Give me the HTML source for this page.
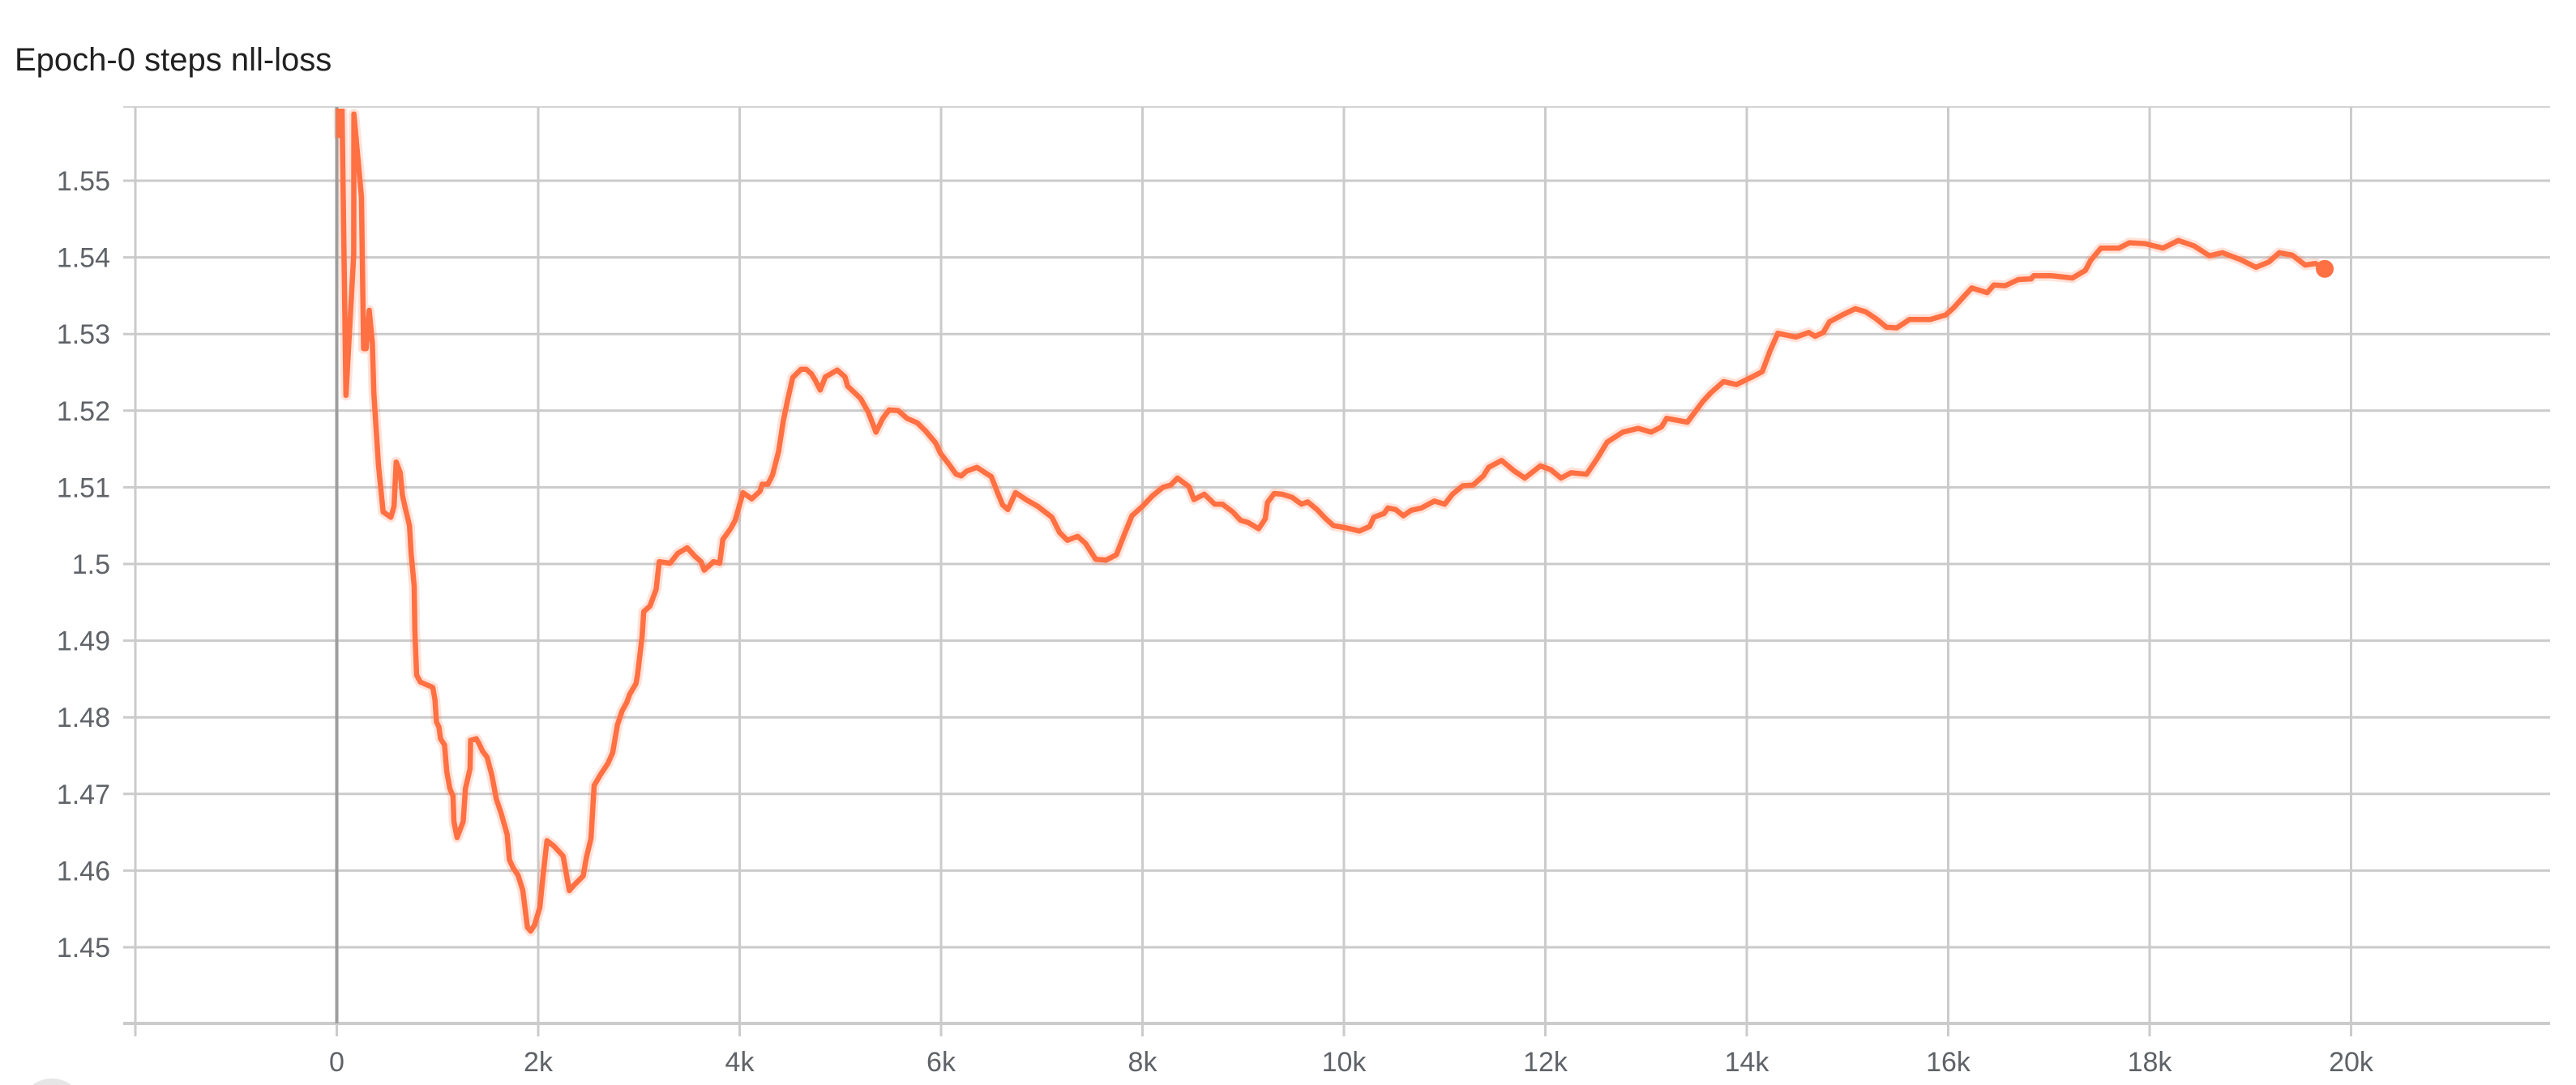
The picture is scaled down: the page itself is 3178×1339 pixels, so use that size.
<!DOCTYPE html>
<html><head><meta charset="utf-8"><style>
html,body{margin:0;padding:0;background:#fff;width:3178px;height:1339px;overflow:hidden}
#title{position:absolute;left:18px;top:52px;font:40px "Liberation Sans",sans-serif;color:#212121}
svg{position:absolute;left:0;top:0}
</style></head><body>
<div id="title">Epoch-0 steps nll-loss</div>
<svg id="chart" width="3178" height="1339"></svg>
<script>
const steps=[0,14,23,45,91,168,170,245,266,291,322,353,368,414,460,537,568,590,630,651,682,722,738,769,775,793,830,953,975,990,1015,1030,1070,1092,1123,1154,1163,1194,1255,1277,1323,1329,1385,1415,1446,1492,1539,1585,1631,1692,1714,1754,1800,1847,1893,1924,1964,2016,2047,2087,2155,2247,2309,2355,2447,2478,2524,2555,2617,2693,2740,2786,2832,2878,2909,2971,2986,3032,3048,3109,3171,3202,3309,3387,3479,3556,3617,3648,3741,3802,3833,3910,3956,4033,4120,4203,4224,4280,4326,4387,4434,4480,4526,4610,4661,4713,4754,4800,4851,4969,5046,5072,5200,5277,5354,5421,5483,5575,5662,5765,5842,5945,5996,6073,6150,6201,6253,6355,6499,6561,6612,6663,6740,6843,6961,7100,7177,7254,7356,7433,7536,7639,7741,7818,7895,7998,8100,8203,8280,8347,8460,8511,8614,8716,8793,8896,8973,9050,9153,9219,9240,9307,9384,9486,9579,9640,9733,9820,9897,10025,10154,10256,10297,10400,10436,10513,10590,10667,10770,10898,11000,11078,11180,11283,11385,11437,11565,11693,11796,11950,12053,12155,12255,12409,12512,12614,12768,12922,13051,13153,13205,13410,13564,13641,13769,13898,14052,14154,14231,14308,14488,14616,14678,14760,14822,14950,15078,15181,15284,15386,15489,15617,15822,15976,16053,16156,16233,16387,16454,16567,16695,16823,16849,17029,17234,17362,17414,17516,17593,17696,17799,17953,18132,18286,18440,18594,18723,18902,19056,19184,19287,19416,19544,19647,19739];
const losses=[1.58,1.566,1.5559,1.566,1.522,1.5404,1.5587,1.5479,1.5281,1.5281,1.5331,1.5288,1.5223,1.5129,1.5068,1.5061,1.5075,1.5133,1.5119,1.509,1.5072,1.505,1.5014,1.4971,1.4913,1.4855,1.4846,1.4839,1.4823,1.4794,1.4787,1.4772,1.4764,1.4729,1.4707,1.4697,1.4664,1.4643,1.4664,1.4707,1.4733,1.477,1.4772,1.4765,1.4756,1.4748,1.4725,1.4693,1.4675,1.4647,1.4614,1.4603,1.4594,1.4574,1.4526,1.4521,1.4529,1.4552,1.4592,1.4639,1.4632,1.4619,1.4574,1.4581,1.4593,1.4617,1.4642,1.4711,1.4725,1.474,1.4754,1.479,1.4808,1.4819,1.483,1.4844,1.4855,1.4906,1.4938,1.4945,1.4967,1.5003,1.5001,1.5014,1.5021,1.501,1.5003,1.4992,1.5003,1.5001,1.5032,1.5046,1.5057,1.5093,1.5085,1.5095,1.5104,1.5104,1.5116,1.5147,1.5187,1.5216,1.5243,1.5254,1.5254,1.5248,1.5239,1.5227,1.5244,1.5253,1.5244,1.5232,1.5216,1.5198,1.5172,1.519,1.5201,1.52,1.519,1.5184,1.5174,1.5158,1.5144,1.5131,1.5117,1.5115,1.5121,1.5126,1.5114,1.5093,1.5077,1.5071,1.5093,1.5084,1.5075,1.5061,1.5041,1.5031,1.5036,1.5027,1.5006,1.5005,1.5012,1.5038,1.5063,1.5075,1.5089,1.51,1.5103,1.5112,1.5101,1.5084,1.5091,1.5078,1.5078,1.5068,1.5057,1.5054,1.5046,1.5059,1.508,1.5092,1.5091,1.5087,1.5078,1.5081,1.5071,1.5059,1.505,1.5047,1.5043,1.5049,1.5061,1.5066,1.5073,1.5071,1.5063,1.507,1.5073,1.5082,1.5078,1.5091,1.5102,1.5103,1.5115,1.5126,1.5135,1.5121,1.5112,1.5128,1.5123,1.5112,1.5119,1.5117,1.5137,1.5159,1.5172,1.5177,1.5172,1.5179,1.519,1.5185,1.5212,1.5223,1.5238,1.5234,1.5244,1.5251,1.5278,1.5301,1.5296,1.5302,1.5297,1.5302,1.5316,1.5325,1.5333,1.5329,1.532,1.5309,1.5308,1.5319,1.5319,1.5325,1.5334,1.5349,1.536,1.5354,1.5364,1.5363,1.5371,1.5372,1.5376,1.5376,1.5373,1.5383,1.5396,1.5412,1.5412,1.5412,1.5419,1.5418,1.5412,1.5422,1.5415,1.5402,1.5406,1.5397,1.5387,1.5394,1.5406,1.5403,1.539,1.5392,1.5385];
const yTicks=[1.45,1.46,1.47,1.48,1.49,1.5,1.51,1.52,1.53,1.54,1.55];
const yTickLabels=["1.45","1.46","1.47","1.48","1.49","1.5","1.51","1.52","1.53","1.54","1.55"];
const xTicks=[-2000,0,2000,4000,6000,8000,10000,12000,14000,16000,18000,20000];
const xTickLabels=["","0","2k","4k","6k","8k","10k","12k","14k","16k","18k","20k"];

const NS="http://www.w3.org/2000/svg";
const svg=document.getElementById('chart');
const L=152,R=3146,T=134,B=1263;
const X=s=>415.5+s*248.5/2000;
const Y=v=>223-(v-1.55)*9460;
function mk(tag,attrs,parent){const e=document.createElementNS(NS,tag);for(const k in attrs)e.setAttribute(k,attrs[k]);(parent||svg).appendChild(e);return e;}

const defs=mk('defs',{});
const cp=mk('clipPath',{id:'clip'},defs);
mk('rect',{x:L,y:T,width:R-L,height:B-T},cp);

mk('line',{x1:L,x2:R,y1:T-2,y2:T-2,stroke:'#d4d4d4','stroke-width':2});
yTicks.forEach((v,i)=>{
  const g=mk('line',{x1:L,x2:R,y1:Y(v),y2:Y(v),stroke:'#cbcbcb','stroke-width':3});
  
  
  const t=mk('text',{x:136,y:Y(v)+12,'text-anchor':'end','font-family':'Liberation Sans, sans-serif','font-size':34,fill:'#5f6368'});
  t.textContent=yTickLabels[i];
  
  
});
mk('line',{x1:L,x2:R,y1:B,y2:B,stroke:'#cbcbcb','stroke-width':4});
xTicks.forEach((s,i)=>{
  const g=mk('line',{x1:X(s),x2:X(s),y1:T-2,y2:B+16,stroke:'#cbcbcb','stroke-width':3});
  
  
  if(xTickLabels[i]){
    const t=mk('text',{x:X(s),y:1322,'text-anchor':'middle','font-family':'Liberation Sans, sans-serif','font-size':34,fill:'#5f6368'});
    t.textContent=xTickLabels[i];
    
    
  }
});
const z=mk('line',{x1:X(0),x2:X(0),y1:T-2,y2:B,stroke:'#9e9e9e','stroke-width':4});



const pts=steps.map((s,i)=>X(s).toFixed(1)+','+Y(losses[i]).toFixed(1)).join(' ');
const g=mk('g',{'clip-path':'url(#clip)'});
const halo=mk('polyline',{points:pts,fill:'none',stroke:'#ff7043','stroke-opacity':0.2,'stroke-width':13,'stroke-linejoin':'round'},g);


const line=mk('polyline',{points:pts,fill:'none',stroke:'#ff7043','stroke-width':6.5,'stroke-linejoin':'round'},g);


const n=steps.length-1;
const dot=mk('circle',{cx:X(steps[n]),cy:Y(losses[n]),r:11,fill:'#ff7043'});


const c=mk('path',{d:'M 40 1339 A 40 40 0 0 1 88 1339 Z',fill:'#e6e6e6'});


</script>
</body></html>
